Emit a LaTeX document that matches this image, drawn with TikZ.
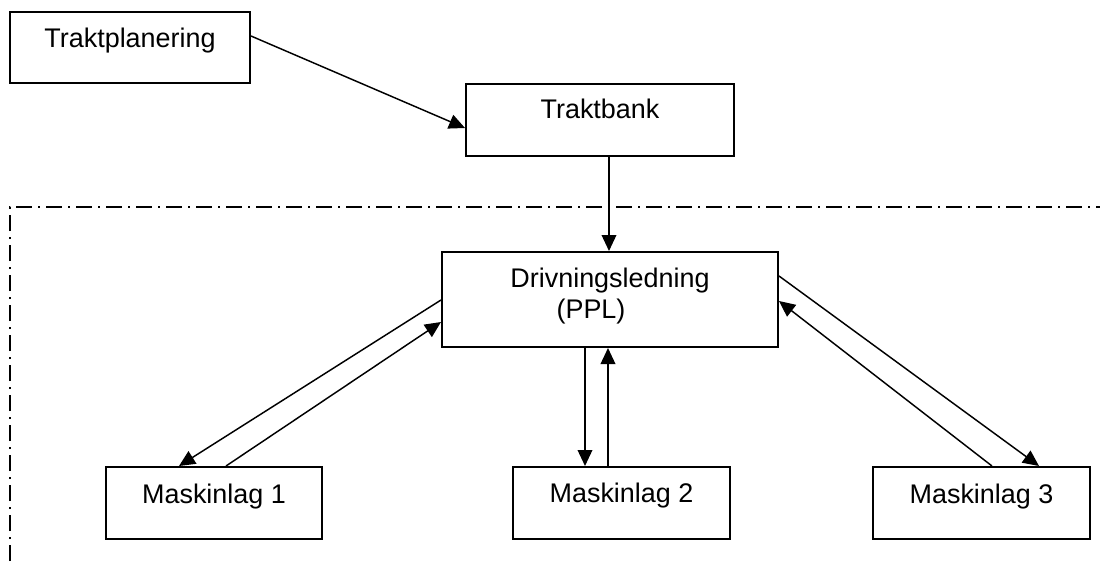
\documentclass[tikz,border=0pt]{standalone}
\usepackage{fontspec}
\setmainfont{Liberation Sans}
\usetikzlibrary{calc,arrows.meta}
\begin{document}
\begin{tikzpicture}[x=0.75pt,y=-0.75pt,
  box/.style={draw=black,line width=1.5pt,fill=white,inner sep=0pt},
  lbl/.style={inner sep=0pt,anchor=base,font=\fontsize{20.2}{24}\selectfont},
  conn/.style={line width=1.1pt,-{Triangle[length=12pt,width=11pt]}},
  frame/.style={line width=1.3pt,dash pattern=on 12pt off 4.5pt on 1.5pt off 4.5pt}]
\useasboundingbox (0,0) rectangle (1100,561);
\fill[white] (0,0) rectangle (1100,561);
% dash-dot frame
\coordinate (fb) at (10,561);
\coordinate (fc) at (10,207);
\coordinate (fr) at (1100,207);
\draw[frame] (fb) -- (fc) -- (fr);
% boxes
\node[box,minimum width=180pt,minimum height=53.25pt] (tp) at (130,47.5) {};
\node[lbl] (tpt) at (130,47) {Traktplanering};
\node[box,minimum width=201pt,minimum height=54pt] (tb) at (600,120) {};
\node[lbl] (tbt) at (600,118) {Traktbank};
\node[box,minimum width=252pt,minimum height=71.25pt] (ppl) at (610,299.5) {};
\node[lbl] (pplt1) at (610,287) {Drivningsledning};
\node[lbl] (pplt2) at (591,318) {(PPL)};
\node[box,minimum width=162pt,minimum height=54pt] (m1) at (214,503) {};
\node[lbl] (m1t) at (214,503) {Maskinlag 1};
\node[box,minimum width=162.75pt,minimum height=54pt] (m2) at (621.5,503) {};
\node[lbl] (m2t) at (621.5,502) {Maskinlag 2};
\node[box,minimum width=162.75pt,minimum height=54pt] (m3) at (981.5,503) {};
\node[lbl] (m3t) at (981.5,503) {Maskinlag 3};
% connectors
\draw[conn] ($(tp.north east)+(0,25)$) -- ($(tb.north west)+(0,45)$);
\draw[conn] ($(tb.south west)+(144,0)$) -- ($(ppl.north west)+(168,0)$);
\draw[conn] ($(ppl.north west)+(0,49)$) -- ($(m1.north west)+(74,0)$);
\draw[conn] ($(m1.north west)+(121,0)$) -- ($(ppl.north west)+(0,71)$);
\draw[conn] ($(ppl.south west)+(144,0)$) -- ($(m2.north west)+(73,0)$);
\draw[conn] ($(m2.north west)+(96,0)$) -- ($(ppl.south west)+(167,0)$);
\draw[conn] ($(ppl.north east)+(0,25)$) -- ($(m3.north west)+(167,0)$);
\draw[conn] ($(m3.north west)+(120,0)$) -- ($(ppl.north east)+(0,50)$);
\end{tikzpicture}
\end{document}
